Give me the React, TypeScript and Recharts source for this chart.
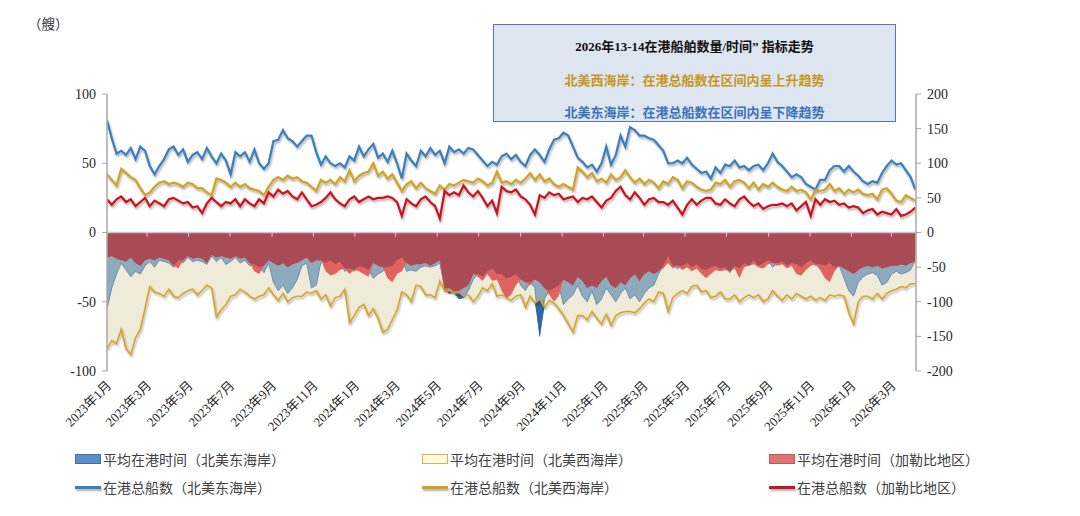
import React from 'react';
import { ComposedChart, Line, Area, XAxis, YAxis, ReferenceLine } from 'recharts';

// x positions: weekly samples, day offsets from 2023-01-01
const TICK_DAYS = [0, 59, 120, 181, 243, 304, 365, 425, 486, 547, 609, 670, 731, 790, 851, 912, 974, 1035, 1096, 1155];
const TICK_LABELS = ['2023年1月', '2023年3月', '2023年5月', '2023年7月', '2023年9月', '2023年11月', '2024年1月', '2024年3月', '2024年5月', '2024年7月', '2024年9月', '2024年11月', '2025年1月', '2025年3月', '2025年5月', '2025年7月', '2025年9月', '2025年11月', '2026年1月', '2026年3月'];
const LEFT_TICKS = [-100, -50, 0, 50, 100];
const RIGHT_TICKS = [-200, -150, -100, -50, 0, 50, 100, 150, 200];

// 在港总船数 (left axis, 艘)
const EAST_COUNT = [81,68,57,59,56,61,53,62,59,48,42,48,53,60,62,56,60,51,56,58,53,61,55,50,57,52,42,58,55,58,51,60,50,46,50,66,67,74,68,66,62,66,70,70,58,49,55,50,48,50,47,55,52,62,55,60,
  64,54,57,51,59,50,39,57,52,48,59,55,61,56,59,50,62,58,60,57,61,60,56,52,48,51,49,55,57,53,56,51,48,56,60,56,51,60,67,68,72,70,62,54,51,47,49,44,50,62,49,56,70,62,
  76,74,70,70,68,67,63,59,50,50,52,50,54,49,46,43,44,39,47,43,49,48,52,47,48,45,48,49,45,50,57,51,48,44,40,42,40,35,33,31,38,38,45,48,48,44,48,44,41,37,35,37,36,43,48,52,49,50,45,40,31];
const WEST_COUNT = [42,38,34,46,43,40,38,32,27,29,33,36,37,35,36,35,33,36,35,32,32,29,27,39,38,36,33,36,33,35,32,31,30,27,33,38,40,38,41,39,40,37,36,33,30,38,36,38,35,40,37,45,37,41,43,44,
  50,41,44,39,42,36,30,35,37,32,36,32,30,28,34,31,35,34,36,38,37,36,39,37,34,36,44,36,37,35,38,36,39,43,38,42,37,39,35,33,35,33,31,47,44,40,43,37,39,36,42,38,40,45,
  40,36,39,35,38,36,32,37,35,40,38,32,37,36,33,31,30,31,36,35,38,33,37,38,36,32,36,31,35,33,36,33,31,30,33,30,31,29,24,31,30,31,35,30,32,28,31,29,31,28,27,28,24,31,32,28,23,22,27,25,23];
const CARIB_COUNT = [24,20,24,26,22,24,19,22,25,19,23,21,19,24,25,23,21,22,18,19,14,21,25,22,19,22,21,24,19,24,21,19,24,21,29,26,31,28,30,26,24,29,24,19,20,22,25,29,24,21,19,24,26,22,24,26,
  24,25,25,26,25,22,12,24,21,19,24,26,22,19,10,30,27,29,27,34,29,26,30,25,19,23,14,33,30,29,31,26,24,20,13,27,25,29,27,28,24,25,26,22,25,24,26,22,18,23,25,30,33,27,
  24,29,25,20,24,25,22,22,20,23,18,13,20,24,20,23,25,25,21,20,24,21,19,24,26,22,19,21,17,19,20,20,21,19,21,16,19,22,12,24,20,24,22,23,20,21,18,19,18,14,16,17,13,15,14,13,17,12,13,15,18];

// 平均在港时间 (right axis, plotted negative)
const EAST_TIME = [-110,-80,-60,-44,-54,-64,-56,-60,-48,-42,-50,-40,-42,-44,-50,-40,-44,-36,-42,-40,-42,-46,-34,-42,-36,-46,-42,-36,-44,-40,-48,-46,-50,-58,-44,-72,-84,-76,-88,-80,-68,-48,-44,-80,-76,-42,-44,-40,-46,-42,-56,-52,-56,-48,-50,-54,
  -66,-60,-56,-50,-48,-40,-36,-56,-54,-56,-50,-48,-50,-48,-44,-80,-88,-84,-96,-94,-84,-68,-60,-64,-56,-52,-60,-60,-66,-64,-60,-76,-84,-72,-80,-150,-96,-84,-80,-76,-104,-96,-90,-76,-92,-100,-84,-104,-96,-80,-90,-100,-88,-80,
  -96,-90,-100,-88,-80,-76,-60,-48,-34,-48,-52,-48,-44,-50,-46,-52,-54,-50,-48,-52,-50,-58,-48,-52,-44,-48,-40,-48,-44,-40,-50,-44,-42,-48,-44,-46,-50,-44,-40,-48,-46,-48,-44,-50,-48,-66,-84,-92,-72,-64,-60,-58,-62,-76,-72,-60,-56,-60,-58,-54,-40];
const WEST_TIME = [-168,-156,-160,-140,-168,-176,-152,-140,-110,-78,-86,-88,-92,-82,-92,-94,-88,-84,-82,-90,-84,-76,-80,-122,-112,-104,-92,-90,-82,-86,-92,-96,-92,-90,-80,-90,-98,-88,-100,-94,-92,-92,-86,-88,-84,-96,-90,-106,-94,-92,-82,-130,-120,-108,-104,-120,
  -110,-124,-144,-140,-126,-112,-86,-90,-100,-76,-78,-90,-90,-94,-70,-84,-84,-88,-86,-92,-90,-100,-92,-80,-84,-74,-92,-90,-94,-98,-92,-90,-108,-92,-102,-96,-108,-98,-102,-110,-120,-132,-144,-120,-120,-126,-114,-124,-132,-118,-134,-120,-116,-114,
  -114,-116,-110,-102,-96,-100,-86,-88,-114,-94,-88,-84,-88,-78,-76,-86,-84,-94,-92,-86,-96,-96,-90,-100,-94,-90,-94,-90,-100,-96,-84,-92,-98,-90,-96,-88,-92,-96,-92,-98,-94,-98,-90,-92,-90,-92,-116,-132,-100,-92,-92,-96,-88,-96,-88,-84,-82,-78,-80,-74,-74];
const CARIB_TIME = [-36,-34,-38,-40,-42,-36,-44,-48,-40,-38,-40,-36,-38,-40,-48,-52,-40,-34,-38,-36,-38,-44,-32,-36,-34,-36,-38,-34,-38,-36,-44,-56,-60,-48,-40,-44,-48,-44,-50,-46,-44,-40,-36,-44,-40,-40,-56,-62,-60,-54,-52,-60,-54,-56,-60,-64,
  -44,-48,-50,-66,-72,-60,-56,-44,-48,-46,-46,-44,-48,-44,-40,-86,-80,-88,-84,-80,-76,-60,-64,-70,-60,-70,-68,-84,-96,-90,-76,-68,-72,-76,-68,-72,-80,-90,-100,-92,-68,-72,-76,-64,-70,-80,-76,-80,-70,-64,-76,-80,-72,-76,
  -66,-60,-70,-60,-56,-60,-56,-52,-44,-52,-48,-54,-50,-56,-52,-60,-66,-60,-54,-56,-54,-56,-52,-66,-50,-48,-46,-50,-52,-46,-44,-48,-46,-52,-48,-60,-62,-54,-48,-46,-54,-66,-72,-56,-48,-52,-56,-60,-54,-50,-48,-50,-48,-52,-50,-48,-48,-46,-48,-44,-44];

const LEGEND_ITEMS = [
  { label: '平均在港时间（北美东海岸）', kind: 'rect', fill: '#5b8fc7', stroke: '#3f6f9f' },
  { label: '平均在港时间（北美西海岸）', kind: 'rect', fill: '#fdf8e2', stroke: '#d8b24a' },
  { label: '平均在港时间（加勒比地区）', kind: 'rect', fill: '#e07377', stroke: '#c4555b' },
  { label: '在港总船数（北美东海岸）', kind: 'line', fill: '#3a7fc1', stroke: '#3a7fc1' },
  { label: '在港总船数（北美西海岸）', kind: 'line', fill: '#d4a21c', stroke: '#d4a21c' },
  { label: '在港总船数（加勒比地区）', kind: 'line', fill: '#c8141c', stroke: '#c8141c' },
];

const data = EAST_COUNT.map((v, i) => ({
  day: i * 7,
  eastCount: v,
  westCount: WEST_COUNT[i],
  caribCount: CARIB_COUNT[i],
  eastTime: EAST_TIME[i],
  westTime: WEST_TIME[i],
  caribTime: CARIB_TIME[i],
  overlap: Math.max(EAST_TIME[i], CARIB_TIME[i]),
  blueBeyond: [WEST_TIME[i], Math.min(EAST_TIME[i], WEST_TIME[i])],
}));

const SERIF = "'Liberation Serif', 'Noto Sans CJK SC', serif";
const CJK = "'Noto Sans CJK SC', sans-serif";

const XTick = (props: any) => {
  const { x, y, payload } = props;
  const idx = TICK_DAYS.indexOf(payload.value);
  const label = idx >= 0 ? TICK_LABELS[idx] : '';
  const ax = x + 2;
  const ay = y + 4;
  return (
    <text x={ax} y={ay} transform={`rotate(-45 ${ax} ${ay})`} textAnchor="end" dominantBaseline="central"
      fontSize={13} fontFamily={SERIF} fill="#262626">{label}</text>
  );
};

const axisTick = { fontSize: 14, fontFamily: SERIF, fill: '#262626' };

export default function App() {
  return (
    <div style={{ position: 'relative', width: 1064, height: 500, background: '#fff' }}>
      <style>{`
        .shadowLine .recharts-line-curve { filter: drop-shadow(1.5px 2.5px 1.2px rgba(0,0,0,0.33)); }
        .shadowArea .recharts-area-curve { filter: drop-shadow(1px 2.5px 1.5px rgba(0,0,0,0.2)); }
      `}</style>
      <div style={{ position: 'absolute', left: 20, top: 5, fontSize: 13.5, fontFamily: SERIF, color: '#333' }}>（艘）</div>
      <ComposedChart width={1064} height={500} data={data} margin={{ top: 86, right: 96, left: 0, bottom: 77 }}>
        <XAxis dataKey="day" type="number" domain={[0, 1191]} ticks={TICK_DAYS} interval={0}
          axisLine={false} tickLine={false} height={60} tick={<XTick />} allowDataOverflow />
        <YAxis yAxisId="l" domain={[-100, 100]} ticks={LEFT_TICKS} width={99} axisLine={{ stroke: '#a8a8a8', strokeWidth: 1.5 }}
          tickLine={{ stroke: '#a8a8a8' }} tickSize={5} tickMargin={6} tick={axisTick} allowDataOverflow />
        <YAxis yAxisId="r" orientation="right" domain={[-200, 200]} ticks={RIGHT_TICKS} width={60}
          axisLine={{ stroke: '#a8a8a8', strokeWidth: 1.5 }} tickLine={{ stroke: '#a8a8a8' }} tickSize={5} tickMargin={6}
          tick={axisTick} allowDataOverflow />

        <Area yAxisId="r" dataKey="westTime" type="linear" fill="#efebd8" fillOpacity={1}
          stroke="none" dot={false} activeDot={false} isAnimationActive={false} />
        <Area yAxisId="r" dataKey="eastTime" type="linear" fill="#8eaabd" fillOpacity={1}
          stroke="#6a8db3" strokeWidth={1} dot={false} activeDot={false} isAnimationActive={false} />
        <Area yAxisId="r" dataKey="caribTime" type="linear" fill="#e0635f" fillOpacity={1}
          stroke="none" dot={false} activeDot={false} isAnimationActive={false} />
        <Area yAxisId="r" dataKey="overlap" type="linear" fill="#a94b55" fillOpacity={1}
          stroke="none" dot={false} activeDot={false} isAnimationActive={false} />
        <Area yAxisId="r" dataKey="blueBeyond" type="linear" fill="#2f66a6" fillOpacity={1}
          stroke="none" dot={false} activeDot={false} isAnimationActive={false} />
        <Line className="shadowLine" yAxisId="r" dataKey="westTime" type="linear" stroke="#d9a520" strokeWidth={1.6}
          dot={false} activeDot={false} isAnimationActive={false} legendType="none" />

        <ReferenceLine yAxisId="l" y={0} stroke="#c8c8c8" strokeWidth={1.5} />
        {TICK_DAYS.map((d) => (
          <ReferenceLine key={d} yAxisId="l" segment={[{ x: d, y: 0 }, { x: d, y: -3 }]} stroke="#d8d8d8" strokeWidth={1} />
        ))}

        <Line className="shadowLine" yAxisId="l" dataKey="eastCount" type="linear" stroke="#3a7fc1" strokeWidth={2.2}
          dot={false} activeDot={false} isAnimationActive={false} />
        <Line className="shadowLine" yAxisId="l" dataKey="westCount" type="linear" stroke="#d4a21c" strokeWidth={2.2}
          dot={false} activeDot={false} isAnimationActive={false} />
        <Line className="shadowLine" yAxisId="l" dataKey="caribCount" type="linear" stroke="#d0101a" strokeWidth={2.2}
          dot={false} activeDot={false} isAnimationActive={false} />
      </ComposedChart>

      <div style={{ position: 'absolute', left: 485, top: 16, width: 403, height: 98, background: '#dde5f1',
        border: '1.5px solid #5877ae', boxSizing: 'border-box', textAlign: 'center', fontWeight: 700, fontSize: 13 }}>
        <div style={{ position: 'absolute', left: 0, right: 0, top: 11, fontFamily: SERIF, color: '#111' }}>2026年13-14在港船舶数量/时间” 指标走势</div>
        <div style={{ position: 'absolute', left: 0, right: 0, top: 45, fontFamily: CJK, color: '#c8961c' }}>北美西海岸：在港总船数在区间内呈上升趋势</div>
        <div style={{ position: 'absolute', left: 0, right: 0, top: 77, fontFamily: CJK, color: '#3a72b8' }}>北美东海岸：在港总船数在区间内呈下降趋势</div>
      </div>

      <div style={{ position: 'absolute', left: 67, top: 437, display: 'grid', gridTemplateColumns: '347px 347px 300px',
        gridAutoRows: '28px', fontFamily: CJK, fontSize: 14, color: '#404040' }}>
        {LEGEND_ITEMS.map((it) => (
          <div key={it.label} style={{ display: 'flex', alignItems: 'center', whiteSpace: 'nowrap' }}>
            {it.kind === 'rect' ? (
              <span style={{ display: 'inline-block', width: 26, height: 10, background: it.fill, border: `1px solid ${it.stroke}`, boxSizing: 'border-box' }} />
            ) : (
              <span style={{ display: 'inline-block', width: 26, height: 3, background: it.fill, boxShadow: '1px 2px 2px rgba(0,0,0,0.3)' }} />
            )}
            <span style={{ marginLeft: 2 }}>{it.label}</span>
          </div>
        ))}
      </div>
    </div>
  );
}
